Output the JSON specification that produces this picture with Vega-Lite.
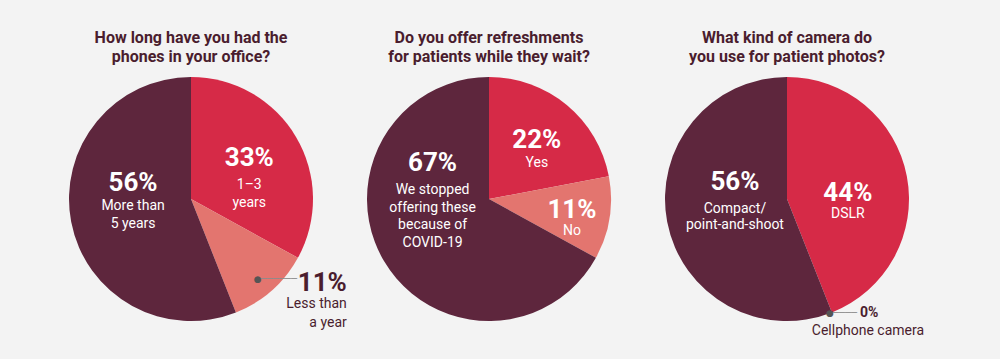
{
  "$schema": "https://vega.github.io/schema/vega-lite/v6.json",
  "background": "#f3f3f3",
  "padding": {"left": 69, "top": 30, "right": 90, "bottom": 40},
  "bounds": "flush",
  "spacing": 54,
  "config": {
    "view": {"stroke": null},
    "text": {"lineBreak": "\n", "font": "Roboto"},
    "title": {"font": "Roboto", "fontWeight": "bold", "fontSize": 16, "lineHeight": 19, "color": "#4a1d2e", "anchor": "middle", "offset": 12}
  },
  "data": {
    "values": [
      {"q": "phones", "n": 1, "label": "1–3\nyears", "value": 0.33},
      {"q": "phones", "n": 2, "label": "Less than\na year", "value": 0.11},
      {"q": "phones", "n": 3, "label": "More than\n5 years", "value": 0.56},
      {"q": "refresh", "n": 1, "label": "Yes", "value": 0.22},
      {"q": "refresh", "n": 2, "label": "No", "value": 0.11},
      {"q": "refresh", "n": 3, "label": "We stopped\noffering these\nbecause of\nCOVID-19", "value": 0.67},
      {"q": "camera", "n": 1, "label": "DSLR", "value": 0.44},
      {"q": "camera", "n": 2, "label": "Cellphone camera", "value": 0.0},
      {"q": "camera", "n": 3, "label": "Compact/\npoint-and-shoot", "value": 0.56}
    ]
  },
  "hconcat": [
    {
      "width": 244, "height": 244,
      "title": {"text": ["How long have you had the", "phones in your office?"]},
      "transform": [{"filter": "datum.q === 'phones'"}],
      "encoding": {
        "theta": {"field": "value", "type": "quantitative", "stack": true},
        "order": {"field": "n", "type": "quantitative"},
        "detail": {"field": "label", "type": "nominal"}
      },
      "layer": [
        {"mark": {"type": "arc", "outerRadius": 122},
         "encoding": {"color": {"field": "n", "type": "nominal", "scale": {"domain": [1, 2, 3], "range": ["#d62a47", "#e3756f", "#5e263d"]}, "legend": null}}},
        {"mark": {"type": "text", "radius": 70, "dx": -2, "dy": -5, "fontWeight": "bold", "fontSize": 26, "fill": "white", "align": "center", "baseline": "middle"},
         "encoding": {"text": {"condition": {"test": "datum.n === 1", "field": "value", "type": "quantitative", "format": ".0%"}, "value": ""}}},
        {"mark": {"type": "text", "radius": 70, "dx": -2, "dy": 22, "fontSize": 14, "lineHeight": 18, "fill": "white", "align": "center", "baseline": "middle"},
         "encoding": {"text": {"condition": {"test": "datum.n === 1", "field": "label"}, "value": ""}}},
        {"mark": {"type": "text", "radius": 60, "dx": 1, "dy": -27, "fontWeight": "bold", "fontSize": 26, "fill": "white", "align": "center", "baseline": "middle"},
         "encoding": {"text": {"condition": {"test": "datum.n === 3", "field": "value", "type": "quantitative", "format": ".0%"}, "value": ""}}},
        {"mark": {"type": "text", "radius": 60, "dx": 1, "dy": -4, "fontSize": 14, "lineHeight": 18, "fill": "white", "align": "center", "baseline": "middle"},
         "encoding": {"text": {"condition": {"test": "datum.n === 3", "field": "label"}, "value": ""}}},
        {"mark": {"type": "text", "radius": 104, "dx": 1, "dy": 2, "font": "DejaVu Sans Mono", "fontSize": 10, "fill": "#8c8c8c", "align": "left", "baseline": "middle"},
         "encoding": {"text": {"condition": {"test": "datum.n === 2", "value": "──────"}, "value": ""}}},
        {"mark": {"type": "text", "radius": 104, "dx": -2, "dy": 2, "font": "DejaVu Sans", "fontSize": 9, "fill": "#555555", "align": "center", "baseline": "middle"},
         "encoding": {"text": {"condition": {"test": "datum.n === 2", "value": "●"}, "value": ""}}},
        {"mark": {"type": "text", "radius": 104, "dx": 87, "dy": 6, "fontWeight": "bold", "fontSize": 26, "fill": "#4a1d2e", "align": "right", "baseline": "middle"},
         "encoding": {"text": {"condition": {"test": "datum.n === 2", "field": "value", "type": "quantitative", "format": ".0%"}, "value": ""}}},
        {"mark": {"type": "text", "radius": 104, "dx": 87, "dy": 27, "fontSize": 14, "lineHeight": 19, "fill": "#4a1d2e", "align": "right", "baseline": "middle"},
         "encoding": {"text": {"condition": {"test": "datum.n === 2", "field": "label"}, "value": ""}}}
      ]
    },
    {
      "width": 244, "height": 244,
      "title": {"text": ["Do you offer refreshments", "for patients while they wait?"]},
      "transform": [{"filter": "datum.q === 'refresh'"}],
      "encoding": {
        "theta": {"field": "value", "type": "quantitative", "stack": true},
        "order": {"field": "n", "type": "quantitative"},
        "detail": {"field": "label", "type": "nominal"}
      },
      "layer": [
        {"mark": {"type": "arc", "outerRadius": 122},
         "encoding": {"color": {"field": "n", "type": "nominal", "scale": {"domain": [1, 2, 3], "range": ["#d62a47", "#e3756f", "#5e263d"]}, "legend": null}}},
        {"mark": {"type": "text", "radius": 75, "dx": 0, "dy": -1, "fontWeight": "bold", "fontSize": 26, "fill": "white", "align": "center", "baseline": "middle"},
         "encoding": {"text": {"condition": {"test": "datum.n === 1", "field": "value", "type": "quantitative", "format": ".0%"}, "value": ""}}},
        {"mark": {"type": "text", "radius": 75, "dx": 0, "dy": 22, "fontSize": 14, "fill": "white", "align": "center", "baseline": "middle"},
         "encoding": {"text": {"condition": {"test": "datum.n === 1", "field": "label"}, "value": ""}}},
        {"mark": {"type": "text", "radius": 85, "dx": -1, "dy": -2, "fontWeight": "bold", "fontSize": 26, "fill": "white", "align": "center", "baseline": "middle"},
         "encoding": {"text": {"condition": {"test": "datum.n === 2", "field": "value", "type": "quantitative", "format": ".0%"}, "value": ""}}},
        {"mark": {"type": "text", "radius": 85, "dx": -1, "dy": 19, "fontSize": 14, "fill": "white", "align": "center", "baseline": "middle"},
         "encoding": {"text": {"condition": {"test": "datum.n === 2", "field": "label"}, "value": ""}}},
        {"mark": {"type": "text", "radius": 40, "dx": -22, "dy": -56, "fontWeight": "bold", "fontSize": 26, "fill": "white", "align": "center", "baseline": "middle"},
         "encoding": {"text": {"condition": {"test": "datum.n === 3", "field": "value", "type": "quantitative", "format": ".0%"}, "value": ""}}},
        {"mark": {"type": "text", "radius": 40, "dx": -22, "dy": -29, "fontSize": 14, "lineHeight": 17.5, "fill": "white", "align": "center", "baseline": "middle"},
         "encoding": {"text": {"condition": {"test": "datum.n === 3", "field": "label"}, "value": ""}}}
      ]
    },
    {
      "width": 244, "height": 244,
      "title": {"text": ["What kind of camera do", "you use for patient photos?"]},
      "transform": [{"filter": "datum.q === 'camera'"}],
      "encoding": {
        "theta": {"field": "value", "type": "quantitative", "stack": true},
        "order": {"field": "n", "type": "quantitative"},
        "detail": {"field": "label", "type": "nominal"}
      },
      "layer": [
        {"mark": {"type": "arc", "outerRadius": 122},
         "encoding": {"color": {"field": "n", "type": "nominal", "scale": {"domain": [1, 2, 3], "range": ["#d62a47", "#e3756f", "#5e263d"]}, "legend": null}}},
        {"mark": {"type": "text", "radius": 62, "dx": 0, "dy": 6, "fontWeight": "bold", "fontSize": 26, "fill": "white", "align": "center", "baseline": "middle"},
         "encoding": {"text": {"condition": {"test": "datum.n === 1", "field": "value", "type": "quantitative", "format": ".0%"}, "value": ""}}},
        {"mark": {"type": "text", "radius": 62, "dx": 0, "dy": 27, "fontSize": 14, "fill": "white", "align": "center", "baseline": "middle"},
         "encoding": {"text": {"condition": {"test": "datum.n === 1", "field": "label"}, "value": ""}}},
        {"mark": {"type": "text", "radius": 53, "dx": 0, "dy": -27, "fontWeight": "bold", "fontSize": 26, "fill": "white", "align": "center", "baseline": "middle"},
         "encoding": {"text": {"condition": {"test": "datum.n === 3", "field": "value", "type": "quantitative", "format": ".0%"}, "value": ""}}},
        {"mark": {"type": "text", "radius": 53, "dx": 0, "dy": 0, "fontSize": 14, "lineHeight": 16, "fill": "white", "align": "center", "baseline": "middle"},
         "encoding": {"text": {"condition": {"test": "datum.n === 3", "field": "label"}, "value": ""}}},
        {"mark": {"type": "text", "radius": 122, "dx": 1, "dy": 1, "font": "DejaVu Sans Mono", "fontSize": 10, "fill": "#8c8c8c", "align": "left", "baseline": "middle"},
         "encoding": {"text": {"condition": {"test": "datum.n === 2", "value": "────"}, "value": ""}}},
        {"mark": {"type": "text", "radius": 122, "dx": -2, "dy": 1, "font": "DejaVu Sans", "fontSize": 9, "fill": "#555555", "align": "center", "baseline": "middle"},
         "encoding": {"text": {"condition": {"test": "datum.n === 2", "value": "●"}, "value": ""}}},
        {"mark": {"type": "text", "radius": 122, "dx": 28, "dy": 1, "fontWeight": "bold", "fontSize": 14, "fill": "#4a1d2e", "align": "left", "baseline": "middle"},
         "encoding": {"text": {"condition": {"test": "datum.n === 2", "field": "value", "type": "quantitative", "format": ".0%"}, "value": ""}}},
        {"mark": {"type": "text", "radius": 122, "dx": 36, "dy": 19, "fontSize": 14, "fill": "#4a1d2e", "align": "center", "baseline": "middle"},
         "encoding": {"text": {"condition": {"test": "datum.n === 2", "field": "label"}, "value": ""}}}
      ]
    }
  ]
}
